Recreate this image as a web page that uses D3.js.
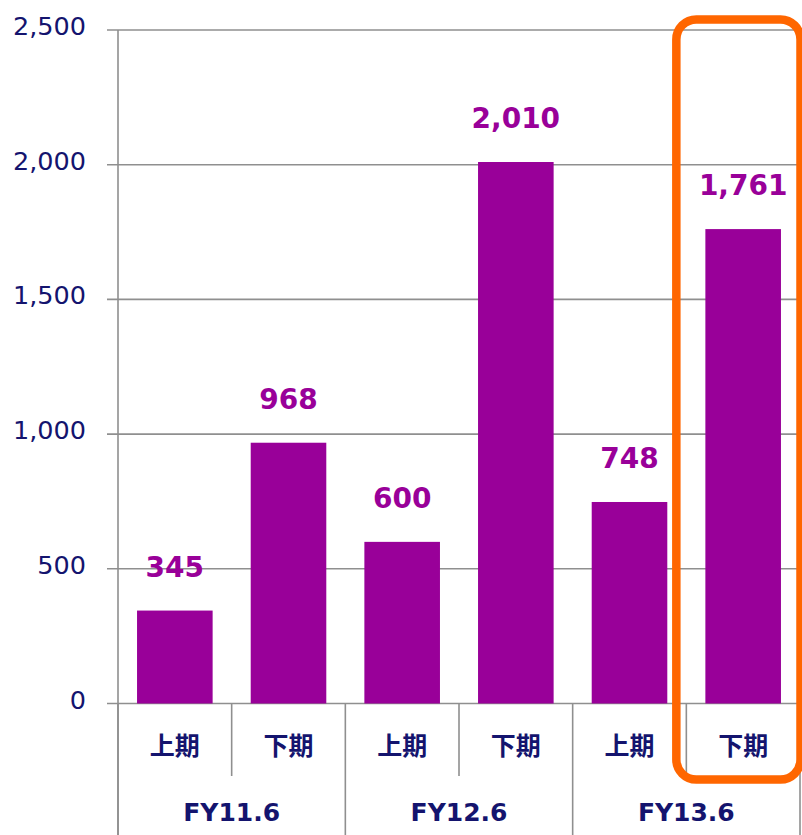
<!DOCTYPE html>
<html><head><meta charset="utf-8">
<script src="https://cdn.jsdelivr.net/npm/d3@7"></script>
<style>html,body{margin:0;padding:0;background:#fff;overflow:hidden}</style>
</head><body>
<svg id="c" width="802" height="835"></svg>
<script>
const periods = ["上期","下期","上期","下期","上期","下期"];
const years = ["FY11.6","FY12.6","FY13.6"];
const values = [345, 968, 600, 2010, 748, 1761];
const yTicks = [0, 500, 1000, 1500, 2000, 2500];
const highlightIndex = 5;

(function () {
const svg = d3.select("#c");
const H = 835;
const pLeft = 118, pRight = 800, pTop = 30, zeroY = 703.5;
const navy = "#14146e", purple = "#990099", grid = "#8f8f8f";

const keys = d3.range(periods.length);
const x = d3.scaleBand().domain(keys).range([pLeft, pRight]).paddingInner(0.335).paddingOuter(0.1675);
const xb = d3.scaleBand().domain(keys).range([pLeft, pRight]);
const yb = d3.scaleBand().domain(d3.range(years.length)).range([pLeft, pRight]);
const y = d3.scaleLinear().domain([0, 2500]).range([zeroY, pTop]);

// gridlines + y labels
svg.append("g").selectAll("line").data(yTicks).join("line")
  .attr("x1", 107).attr("x2", pRight).attr("y1", d => y(d)).attr("y2", d => y(d))
  .attr("stroke", grid).attr("stroke-width", 1.6);
svg.append("g").selectAll("text").data(yTicks).join("text")
  .attr("x", 86).attr("y", d => y(d) + 5).attr("text-anchor", "end")
  .attr("font-family", "DejaVu Sans, Verdana, sans-serif").attr("font-size", 25.5)
  .attr("fill", navy).text(d3.format(","));

// y axis line
svg.append("line").attr("x1", pLeft).attr("x2", pLeft).attr("y1", pTop).attr("y2", H)
  .attr("stroke", grid).attr("stroke-width", 1.6);

// bars
svg.append("g").selectAll("rect").data(values).join("rect")
  .attr("x", (d, i) => x(i)).attr("width", x.bandwidth())
  .attr("y", d => y(d)).attr("height", d => zeroY - y(d))
  .attr("fill", purple);

// value labels
svg.append("g").selectAll("text").data(values).join("text")
  .attr("x", (d, i) => x(i) + x.bandwidth() / 2).attr("y", d => y(d) - 34)
  .attr("text-anchor", "middle").attr("font-family", "DejaVu Sans, Verdana, sans-serif")
  .attr("font-weight", "bold").attr("font-size", 28).attr("fill", purple)
  .text(d3.format(","));

// category separators
svg.append("g").selectAll("line").data(keys.filter(i => i % 2 === 1)).join("line")
  .attr("x1", i => xb(i)).attr("x2", i => xb(i)).attr("y1", zeroY).attr("y2", 776)
  .attr("stroke", grid).attr("stroke-width", 1.6);
svg.append("g").selectAll("line").data(d3.range(years.length + 1)).join("line")
  .attr("x1", i => i < years.length ? yb(i) : pRight).attr("x2", i => i < years.length ? yb(i) : pRight)
  .attr("y1", zeroY).attr("y2", H)
  .attr("stroke", grid).attr("stroke-width", 1.6);

// period labels
svg.append("g").selectAll("text").data(periods).join("text")
  .attr("x", (d, i) => xb(i) + xb.bandwidth() / 2).attr("y", 746).attr("dy", "0.36em")
  .attr("text-anchor", "middle").attr("font-family", "Noto Sans CJK JP, sans-serif")
  .attr("font-weight", "bold").attr("font-size", 25).attr("fill", navy).text(d => d);

// year labels
svg.append("g").selectAll("text").data(years).join("text")
  .attr("x", (d, i) => yb(i) + yb.bandwidth() / 2).attr("y", 812).attr("dy", "0.36em")
  .attr("text-anchor", "middle").attr("font-family", "DejaVu Sans, Verdana, sans-serif")
  .attr("font-weight", "bold").attr("font-size", 25).attr("fill", navy).text(d => d);

// highlight box
const hx0 = xb(highlightIndex) - 10, hx1 = xb(highlightIndex) + xb.bandwidth() + 0.5;
svg.append("rect").attr("x", hx0).attr("y", 19.5).attr("width", hx1 - hx0).attr("height", 779.5 - 19.5)
  .attr("rx", 20).attr("ry", 20).attr("fill", "none").attr("stroke", "#ff6600").attr("stroke-width", 8.5);
})();
</script>
</body></html>
